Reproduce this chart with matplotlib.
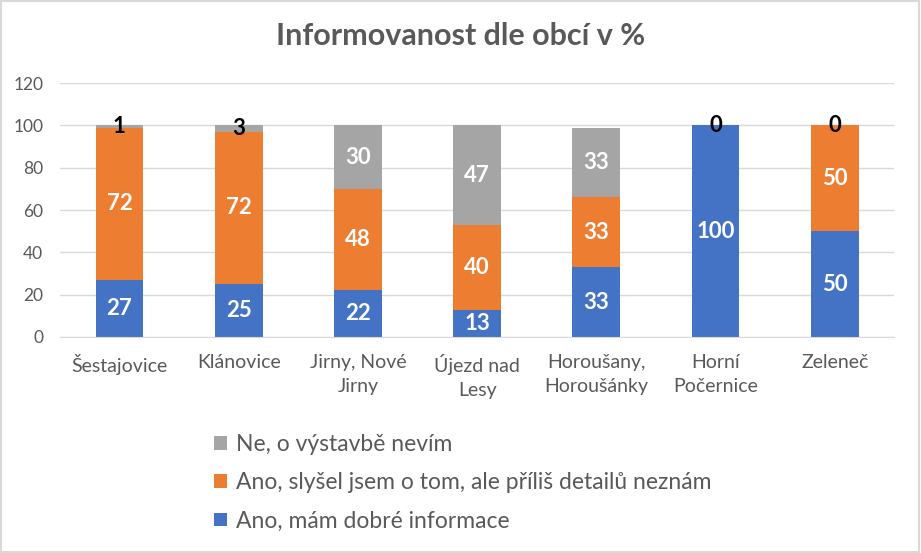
import matplotlib.pyplot as plt
import numpy as np
from matplotlib.patches import Rectangle

plt.rcParams['font.family'] = ['Lato', 'Open Sans', 'DejaVu Sans']

# Data
obce = ['Šestajovice', 'Klánovice', 'Jirny, Nové\nJirny', 'Újezd nad\nLesy',
        'Horoušany,\nHoroušánky', 'Horní\nPočernice', 'Zeleneč']
dobre = [27, 25, 22, 13, 33, 100, 50]
slysel = [72, 72, 48, 40, 33, 0, 50]
nevim = [1, 3, 30, 47, 33, 0, 0]

labels = ['Ano, mám dobré informace',
          'Ano, slyšel jsem o tom, ale příliš detailů neznám',
          'Ne, o výstavbě nevím']
colors = ['#4472C4', '#ED7D31', '#A5A5A5']

fig = plt.figure(figsize=(9.21, 5.53), dpi=100)
ax = fig.add_axes([0.065, 0.3906, 0.906, 0.459])

x = np.arange(len(obce))
width = 0.40
series = [dobre, slysel, nevim]
bottom = np.zeros(len(obce))
handles = []
for i, vals in enumerate(series):
    vals = np.array(vals, dtype=float)
    b = ax.bar(x, vals, width, bottom=bottom, color=colors[i], label=labels[i], zorder=2)
    handles.append(b)
    for xi, v, bt in zip(x, vals, bottom):
        if i == 2:
            col = 'black' if v < 5 else 'white'
            ax.text(xi, bt + v / 2, f'{v:.0f}', ha='center', va='center',
                    color=col, fontsize=16, fontweight='bold', zorder=3)
        elif v > 0:
            ax.text(xi, bt + v / 2, f'{v:.0f}', ha='center', va='center',
                    color='white', fontsize=16, fontweight='bold', zorder=3)
    bottom += vals

ax.set_xlim(-0.5, len(obce) - 0.5)
ax.set_ylim(0, 120)
ax.set_yticks(range(0, 121, 20))
ax.set_xticks(x)
ax.set_xticklabels(obce, linespacing=1.5)
ax.tick_params(axis='both', length=0, colors='#595959')
ax.tick_params(axis='x', pad=12, labelsize=14)
ax.tick_params(axis='y', pad=12, labelsize=12.5)
ax.yaxis.grid(True, color='#D9D9D9', linewidth=1, zorder=0)
for s in ['top', 'right', 'left']:
    ax.spines[s].set_visible(False)
ax.spines['bottom'].set_color('#D9D9D9')

fig.suptitle('Informovanost dle obcí v %', x=0.5, y=0.96, fontsize=22,
             fontweight='bold', color='#595959')

leg = fig.legend(handles[::-1], labels[::-1], loc='upper left',
                 bbox_to_anchor=(0.21, 0.252), frameon=False, fontsize=16.5,
                 handlelength=0.55, handleheight=0.55, handletextpad=0.4,
                 labelspacing=0.75, labelcolor='#595959')

fig.patches.append(Rectangle((0.001, 0.001), 0.997, 0.997, transform=fig.transFigure,
                             fill=False, edgecolor='#D9D9D9', linewidth=1.5))

plt.savefig('out.png', dpi=100)
